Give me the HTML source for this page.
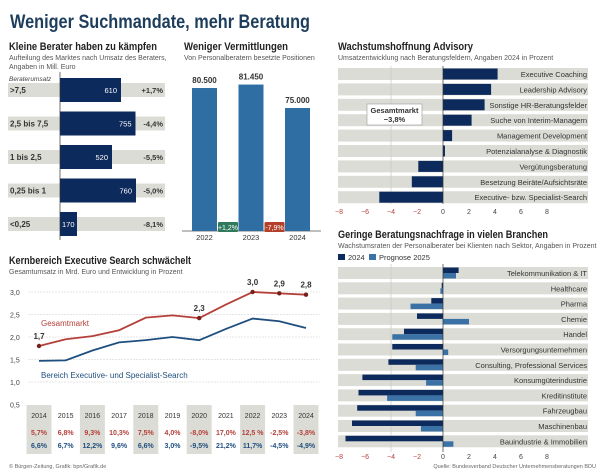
<!DOCTYPE html>
<html><head><meta charset="utf-8"><style>
html,body{margin:0;padding:0;background:#fff;}
svg{display:block;font-family:"Liberation Sans",sans-serif;}
</style></head><body>
<svg id="s" width="604" height="469" viewBox="0 0 604 469" xmlns="http://www.w3.org/2000/svg">
<text x="10" y="28" font-size="19.5" font-weight="bold" fill="#1d3d5c" textLength="300" lengthAdjust="spacingAndGlyphs">Weniger Suchmandate, mehr Beratung</text>
<g>
<text x="9" y="50" font-size="11" font-weight="bold" fill="#222" textLength="148" lengthAdjust="spacingAndGlyphs">Kleine Berater haben zu kämpfen</text>
<text x="9" y="60" font-size="7" fill="#555">Aufteilung des Marktes nach Umsatz des Beraters,</text>
<text x="9" y="69" font-size="7" fill="#555">Angaben in Mill. Euro</text>
<text x="9" y="81" font-size="6.5" font-style="italic" fill="#444">Beraterumsatz</text>
<g id="p1"></g>
</g>
<g>
<text x="184" y="50" font-size="11" font-weight="bold" fill="#222" textLength="104" lengthAdjust="spacingAndGlyphs">Weniger Vermittlungen</text>
<text x="184" y="60" font-size="7" fill="#555">Von Personalberatern besetzte Positionen</text>
<g id="p2"></g>
</g>
<g>
<text x="338" y="50" font-size="11" font-weight="bold" fill="#222" textLength="135" lengthAdjust="spacingAndGlyphs">Wachstumshoffnung Advisory</text>
<text x="338" y="60" font-size="7" fill="#555">Umsatzentwicklung nach Beratungsfeldern, Angaben 2024 in Prozent</text>
<g id="p3"></g>
</g>
<g>
<text x="338" y="238" font-size="11" font-weight="bold" fill="#222" textLength="210" lengthAdjust="spacingAndGlyphs">Geringe Beratungsnachfrage in vielen Branchen</text>
<text x="338" y="248" font-size="7" fill="#555">Wachstumsraten der Personalberater bei Klienten nach Sektor, Angaben in Prozent</text>
<rect x="338" y="254" width="7" height="6" fill="#0d2a5c"/>
<text x="348" y="260" font-size="7.5" fill="#333">2024</text>
<rect x="369" y="254" width="7" height="6" fill="#3b72a6"/>
<text x="379" y="260" font-size="7.5" fill="#333">Prognose 2025</text>
<g id="p4"></g>
<text x="596" y="468" font-size="5.5" fill="#666" text-anchor="end">Quelle: Bundesverband Deutscher Unternehmensberatungen BDU</text>
</g>
<g>
<text x="9" y="264" font-size="11" font-weight="bold" fill="#222" textLength="182" lengthAdjust="spacingAndGlyphs">Kernbereich Executive Search schwächelt</text>
<text x="9" y="274" font-size="7" fill="#555">Gesamtumsatz in Mrd. Euro und Entwicklung in Prozent</text>
<g id="p5"></g>
<text x="9" y="468" font-size="5.5" fill="#666">© Bürgen-Zeitung, Grafik: bpn/Grafik.de</text>
</g>
</svg>
<script>
// Panel 1 data
const p1Cats = [">7,5","2,5 bis 7,5","1 bis 2,5","0,25 bis 1","<0,25"];
const p1Vals = [610,755,520,760,170];
const p1Chg = ["+1,7%","-4,4%","-5,5%","-5,0%","-8,1%"];
// Panel 2 data
const p2Years = ["2022","2023","2024"];
const p2Vals = [80500,81450,75000];
const p2Labels = ["80.500","81.450","75.000"];
const p2Chg = ["+1,2%","-7,9%"];
// Panel 3 data
const p3Cats = ["Executive Coaching","Leadership Advisory","Sonstige HR-Beratungsfelder","Suche von Interim-Managern","Management Development","Potenzialanalyse & Diagnostik","Vergütungsberatung","Besetzung Beiräte/Aufsichtsräte","Executive- bzw. Specialist-Search"];
const p3Vals = [4.2,3.7,3.2,2.2,0.7,0.15,-1.9,-2.4,-4.9];
const xTicks = [-8,-6,-4,-2,0,2,4,6,8];
// Panel 4 data
const p4Cats = ["Telekommunikation & IT","Healthcare","Pharma","Chemie","Handel","Versorgungsunternehmen","Consulting, Professional Services","Konsumgüterindustrie","Kreditinstitute","Fahrzeugbau","Maschinenbau","Bauindustrie & Immobilien"];
const p4V2024 = [1.2,-0.1,-0.9,-2.0,-3.0,-3.9,-4.2,-6.2,-6.5,-6.6,-7.0,-7.5];
const p4V2025 = [1.0,-0.2,-2.5,2.0,-3.9,0.4,-2.1,-1.3,-4.3,-2.1,-1.7,0.8];
// Panel 5 data
const p5Years = ["2014","2015","2016","2017","2018","2019","2020","2021","2022","2023","2024"];
const p5Total = [1.8,1.95,2.02,2.15,2.43,2.48,2.42,2.72,3.0,2.97,2.94];
const p5Search = [1.47,1.48,1.7,1.88,1.93,2.0,1.93,2.18,2.41,2.35,2.2];
const p5TotalPct = ["5,7%","6,8%","9,3%","10,3%","7,5%","4,0%","-8,0%","17,0%","12,5 %","-2,5%","-3,8%"];
const p5SearchPct = ["6,6%","6,7%","12,2%","9,6%","6,6%","3,0%","-9,5%","21,2%","11,7%","-4,5%","-4,9%"];
const p5Yticks = [0.5,1.0,1.5,2.0,2.5,3.0];
const p5Ylabels = ["0,5","1,0","1,5","2,0","2,5","3,0"];
const p5PointLabels = {0:"1,7",6:"2,3",8:"3,0",9:"2,9",10:"2,8"};

const NS="http://www.w3.org/2000/svg";
const NAVY="#0d2a5c", BLUE="#3b72a6", RED="#b5403a", BAND="#dcdcd6";
function mk(parent, tag, attrs, txt){
  const e=document.createElementNS(NS,tag);
  for(const k in attrs) e.setAttribute(k,attrs[k]);
  if(txt!==undefined) e.textContent=txt;
  parent.appendChild(e); return e;
}
// ---- Panel 1
const g1=document.getElementById('p1');
const x1=v=>60+v*0.1;
p1Cats.forEach((c,i)=>{
  const cy=90+i*33.5;
  let r=mk(g1,'rect',{x:8,y:cy-7,width:157,height:14,fill:BAND});
  
  
  r=mk(g1,'rect',{x:60,y:cy-12,width:x1(p1Vals[i])-60,height:24,fill:NAVY});
  
  
  let t=mk(g1,'text',{x:10,y:cy+3,'font-size':8,'font-weight':'bold',fill:'#333'},c);
  
  
  const small=p1Vals[i]<300;
  t=mk(g1,'text',{x:small?62:x1(p1Vals[i])-4,y:cy+3,'font-size':7.5,fill:'#fff','text-anchor':small?'start':'end'},String(p1Vals[i]));
  
  
  t=mk(g1,'text',{x:163,y:cy+3,'font-size':7.5,'font-weight':'bold',fill:'#333','text-anchor':'end'},p1Chg[i]);
  
  
});
let l=mk(g1,'line',{x1:60,y1:72,x2:60,y2:240,stroke:'#333','stroke-width':0.7});


// ---- Panel 2
const g2=document.getElementById('p2');
const y2=v=>231-(v-41175)*0.003636;
l=mk(g2,'line',{x1:182,y1:231,x2:321,y2:231,stroke:'#555','stroke-width':0.8});


p2Years.forEach((yr,i)=>{
  const x=192+i*46.5;
  let r=mk(g2,'rect',{x:x,y:y2(p2Vals[i]),width:25,height:231-y2(p2Vals[i]),fill:'#2f6ea3'});
  
  
  let t=mk(g2,'text',{x:x+12.5,y:y2(p2Vals[i])-5,'font-size':8,'font-weight':'bold',fill:'#333','text-anchor':'middle'},p2Labels[i]);
  
  
  t=mk(g2,'text',{x:x+12.5,y:240,'font-size':7.5,fill:'#333','text-anchor':'middle'},yr);
  
  
});
p2Chg.forEach((c,i)=>{
  const x=228+i*46.5;
  const col=i===0?'#2e7a5a':'#b5402a';
  let r=mk(g2,'rect',{x:x-10,y:222,width:20,height:10,fill:col,rx:1});
  
  
  let t=mk(g2,'text',{x:x,y:230,'font-size':7,fill:'#fff','text-anchor':'middle'},c);
  
  
});
// ---- shared horizontal axis for panels 3/4
const xa=v=>443+v*13;
function axisTicks(g,y,name){
  xTicks.forEach(v=>{
    const t=mk(g,'text',{x:xa(v),y:y,'font-size':7,fill:v<0?RED:'#444','text-anchor':'middle'},String(v).replace('-','−'));
    
    
  });
}
// ---- Panel 3
const g3=document.getElementById('p3');
p3Cats.forEach((c,i)=>{
  const cy=74+i*15.4;
  let r=mk(g3,'rect',{x:338,y:cy-6,width:250,height:12,fill:BAND});
  
  
});
l=mk(g3,'line',{x1:xa(-4),y1:66,x2:xa(-4),y2:204,stroke:'#c8c8c2','stroke-width':0.7});


p3Cats.forEach((c,i)=>{
  const cy=74+i*15.4;
  const v=p3Vals[i];
  let r=mk(g3,'rect',{x:Math.min(xa(0),xa(v)),y:cy-5.5,width:Math.abs(xa(v)-xa(0)),height:11,fill:NAVY});
  
  
  let t=mk(g3,'text',{x:587,y:cy+3,'font-size':7.5,fill:'#333','text-anchor':'end'},c);
  
  
});
l=mk(g3,'line',{x1:xa(0),y1:66,x2:xa(0),y2:204,stroke:'#333','stroke-width':0.7});


let bx=mk(g3,'rect',{x:367,y:104,width:55,height:21,fill:'#fff',stroke:'#999','stroke-width':0.6});


let tt=mk(g3,'text',{x:394.5,y:113,'font-size':7.5,'font-weight':'bold',fill:'#333','text-anchor':'middle'},'Gesamtmarkt');


tt=mk(g3,'text',{x:394.5,y:122,'font-size':7.5,'font-weight':'bold',fill:'#333','text-anchor':'middle'},'−3,8%');


axisTicks(g3,214,'p3-x-tick');
// ---- Panel 4
const g4=document.getElementById('p4');
p4Cats.forEach((c,i)=>{
  const cy=273+i*15.3;
  let r=mk(g4,'rect',{x:338,y:cy-6,width:250,height:12,fill:BAND});
  
  
});
l=mk(g4,'line',{x1:xa(-4),y1:264,x2:xa(-4),y2:452,stroke:'#c8c8c2','stroke-width':0.7});


p4Cats.forEach((c,i)=>{
  const cy=273+i*15.3;
  let v=p4V2024[i];
  let r=mk(g4,'rect',{x:Math.min(xa(0),xa(v)),y:cy-5.5,width:Math.abs(xa(v)-xa(0)),height:5.5,fill:NAVY});
  
  
  v=p4V2025[i];
  r=mk(g4,'rect',{x:Math.min(xa(0),xa(v)),y:cy,width:Math.abs(xa(v)-xa(0)),height:5.5,fill:BLUE});
  
  
  let t=mk(g4,'text',{x:587,y:cy+3,'font-size':7.5,fill:'#333','text-anchor':'end'},c);
  
  
});
l=mk(g4,'line',{x1:xa(0),y1:264,x2:xa(0),y2:452,stroke:'#333','stroke-width':0.7});


axisTicks(g4,459,'p4-x-tick');
// ---- Panel 5
const g5=document.getElementById('p5');
const xp=i=>39+i*26.7;
const yp=v=>292+(3.0-v)*45;
p5Yticks.forEach((v,i)=>{
  if(i>0){
    let gl=mk(g5,'line',{x1:28,y1:yp(v),x2:320,y2:yp(v),stroke:'#ccc','stroke-width':0.6,'stroke-dasharray':'2,1'});
    
    
  }
  let t=mk(g5,'text',{x:10,y:yp(v)+3,'font-size':7,fill:'#444'},p5Ylabels[i]);
  
  
});
p5Years.forEach((yr,i)=>{
  if(i%2===0){
    let r=mk(g5,'rect',{x:xp(i)-12.5,y:405,width:25,height:49,fill:BAND});
    
    
  }
  let t=mk(g5,'text',{x:xp(i),y:418,'font-size':7,fill:'#333','text-anchor':'middle'},yr);
  
  
  t=mk(g5,'text',{x:xp(i),y:435,'font-size':7,'font-weight':'bold',fill:RED,'text-anchor':'middle'},p5TotalPct[i]);
  
  
  t=mk(g5,'text',{x:xp(i),y:448,'font-size':7,'font-weight':'bold',fill:'#1f4f7f','text-anchor':'middle'},p5SearchPct[i]);
  
  
});
let pl=mk(g5,'polyline',{points:p5Search.map((v,i)=>xp(i)+','+yp(v)).join(' '),fill:'none',stroke:'#1f4f7f','stroke-width':1.8});


pl=mk(g5,'polyline',{points:p5Total.map((v,i)=>xp(i)+','+yp(v)).join(' '),fill:'none',stroke:RED,'stroke-width':1.8});


Object.keys(p5PointLabels).forEach(k=>{
  const i=+k;
  let c=mk(g5,'circle',{cx:xp(i),cy:yp(p5Total[i]),r:2.2,fill:'#7a1e1a'});
  
  
  let t=mk(g5,'text',{x:xp(i),y:yp(p5Total[i])-7,'font-size':8,'font-weight':'bold',fill:'#333','text-anchor':'middle'},p5PointLabels[k]);
  
  
});
tt=mk(g5,'text',{x:41,y:326,'font-size':8,fill:RED},'Gesamtmarkt');


tt=mk(g5,'text',{x:41,y:378,'font-size':8,fill:'#1f4f7f'},'Bereich Executive- und Specialist-Search');


</script>
</body></html>
